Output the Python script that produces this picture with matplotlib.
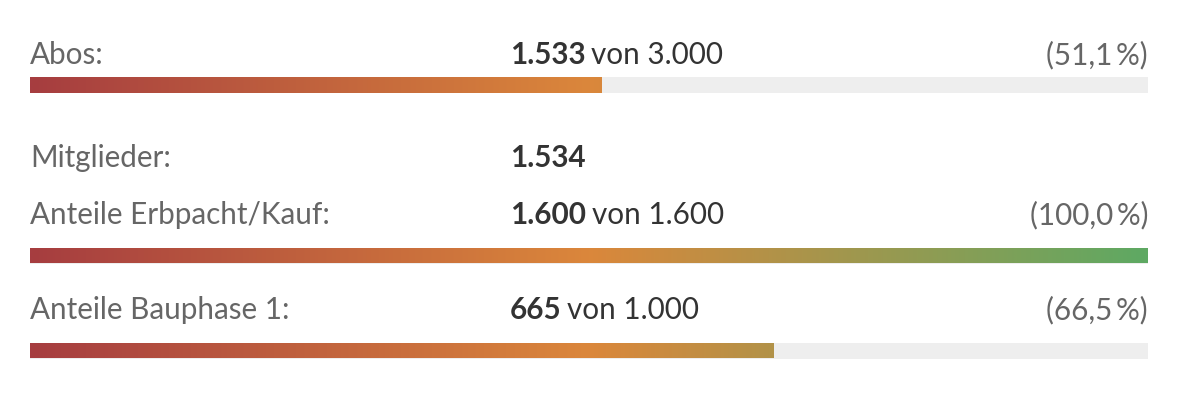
import numpy as np
import matplotlib
matplotlib.use("Agg")
from matplotlib import pyplot as plt
from matplotlib.colors import LinearSegmentedColormap

# Daten der Fortschrittsbalken
labels = ["Abos:", "Mitglieder:", "Anteile Erbpacht/Kauf:", "Anteile Bauphase 1:"]
current = [1533, 1534, 1600, 665]
targets = [3000, None, 1600, 1000]

W, H = 1180, 412
X0, X1 = 30, 1148
VAL_X = 510
# baseline des Textes und Oberkante Balken (in Pixel)
text_y = [64, 167, 224, 319]
bar_y = [77, None, 248, 343]
BAR_H = 15.5

plt.rcParams['font.family'] = ['Lato', 'DejaVu Sans']
FS = 21.3
GREY = "#666666"
DARK = "#333333"

cmap = LinearSegmentedColormap.from_list(
    "prog", ["#a63d40", "#db873b", "#5ea963"])


def fmt_de(n):
    return f"{n:,}".replace(",", ".")


fig = plt.figure(figsize=(W / 100, H / 100), dpi=100)
ax = fig.add_axes([0, 0, 1, 1])
ax.set_xlim(0, W)
ax.set_ylim(H, 0)
ax.axis("off")

grad = np.linspace(0, 1, 512).reshape(1, -1)
fig.canvas.draw()
renderer = fig.canvas.get_renderer()

for i, lab in enumerate(labels):
    ty = text_y[i]
    ax.text(X0, ty, lab, fontsize=FS, color=GREY, va="baseline", ha="left")
    t = ax.text(VAL_X, ty, fmt_de(current[i]), fontsize=FS, color=DARK,
                fontweight="bold", va="baseline", ha="left")
    if targets[i] is None:
        continue
    bb = t.get_window_extent(renderer=renderer)
    x_end = ax.transData.inverted().transform((bb.x1, 0))[0]
    ax.text(x_end + 5.5, ty, "von " + fmt_de(targets[i]), fontsize=FS,
            color=DARK, va="baseline", ha="left")
    frac = current[i] / targets[i]
    pct = f"({frac * 100:.1f}\u2009%)".replace(".", ",")
    ax.text(X1, ty, pct, fontsize=FS, color=GREY, va="baseline", ha="right")

    by = bar_y[i]
    # grauer Hintergrund
    ax.add_patch(plt.Rectangle((X0, by), X1 - X0, BAR_H,
                               facecolor="#eeeeee", edgecolor="none", zorder=1))
    # Verlauf über volle Breite, abgeschnitten beim Wert
    im = ax.imshow(grad, cmap=cmap, aspect="auto", zorder=2,
                   extent=(X0, X1, by + BAR_H, by), interpolation="bilinear")
    clip = plt.Rectangle((X0, by), (X1 - X0) * min(frac, 1), BAR_H,
                         transform=ax.transData, facecolor="none", edgecolor="none")
    im.set_clip_path(clip)

ax.set_xlim(0, W)
ax.set_ylim(H, 0)
fig.savefig("out.png", dpi=100, facecolor="white")
